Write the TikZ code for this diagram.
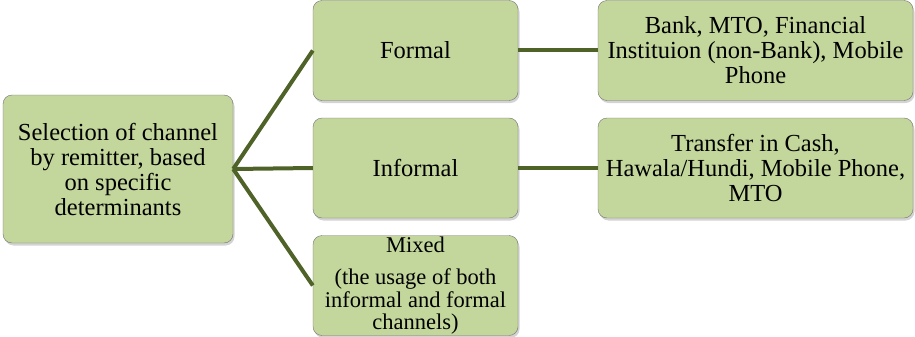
\documentclass[tikz,border=0pt]{standalone}
\usepackage{fontspec}
\setmainfont{Liberation Serif}
\usetikzlibrary{shadows}
\definecolor{boxgreen}{HTML}{C3D69B}
\definecolor{linkgreen}{HTML}{4F6228}
\tikzset{
  chanbox/.style={draw=black!55, fill=boxgreen, rounded corners=9pt, align=center,
    inner sep=0pt, font=\fontsize{24.5}{25}\selectfont,
    drop shadow={shadow xshift=1.5pt, shadow yshift=-2.5pt, opacity=0.35}},
  link/.style={draw=linkgreen, line width=4pt}
}

\begin{document}
\begin{tikzpicture}[x=1pt, y=-1pt]
\useasboundingbox (0,0) rectangle (915,337);
% boxes
\node[chanbox, minimum width=230pt, minimum height=148pt] (root) at (118,169)
  {Selection of channel\\by remitter, based\\on specific\\determinants};
\node[chanbox, minimum width=205pt, minimum height=100pt] (formal) at (415.5,50.5) {Formal};
\node[chanbox, minimum width=205pt, minimum height=100pt] (informal) at (415.5,168) {Informal};
\node[chanbox, minimum width=205pt, minimum height=100pt, font=\fontsize{22.5}{22.5}\selectfont] (mixed) at (415.5,285.5)
  {Mixed\\[10pt](the usage of both\\informal and formal\\channels)};
\node[chanbox, minimum width=315pt, minimum height=100pt] (fdet) at (755.5,50.5)
  {Bank, MTO, Financial\\Instituion (non-Bank), Mobile\\Phone};
\node[chanbox, minimum width=315pt, minimum height=100pt] (idet) at (755.5,168)
  {Transfer in Cash,\\Hawala/Hundi, Mobile Phone,\\MTO};
% connectors
\draw[link] (root.east) -- (formal.west);
\draw[link] (root.east) -- (informal.west);
\draw[link] (root.east) -- (mixed.west);
\draw[link] (formal) -- (fdet);
\draw[link] (informal) -- (idet);
\end{tikzpicture}
\end{document}
